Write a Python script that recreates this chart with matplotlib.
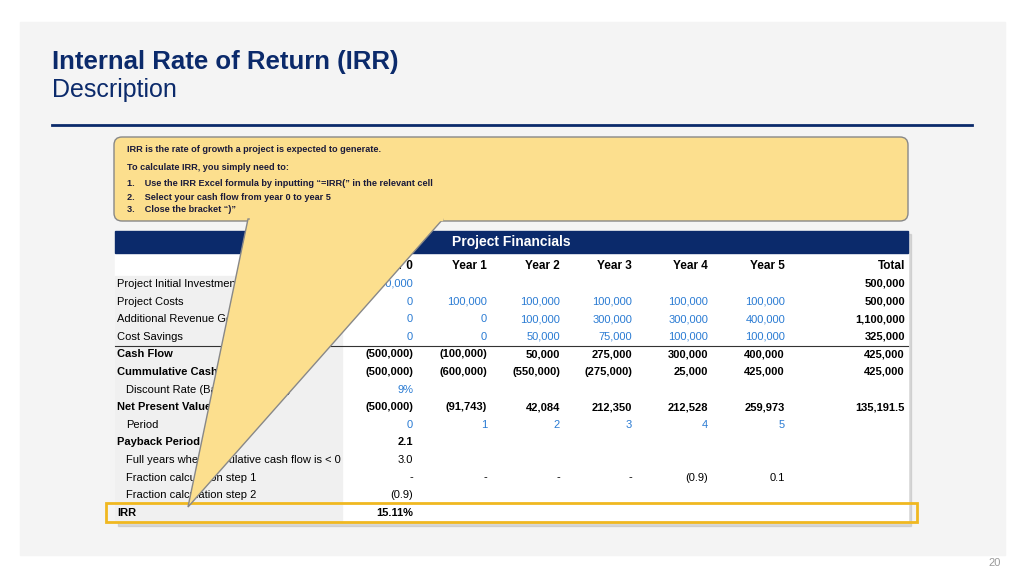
import matplotlib.pyplot as plt
from matplotlib.patches import Rectangle, FancyBboxPatch, Polygon

plt.rcParams['font.family'] = 'Liberation Sans'

NAVY = '#0b2a6b'
BLUE = '#2a7bd3'

# table data
columns = ["Year 0", "Year 1", "Year 2", "Year 3", "Year 4", "Year 5", "Total"]
row_labels = [
    "Project Initial Investment", "Project Costs", "Additional Revenue Generated", "Cost Savings",
    "Cash Flow", "Cummulative Cash Flow", "Discount Rate (Based on WACC)", "Net Present Value",
    "Period", "Payback Period", "Full years when cumulative cash flow is < 0",
    "Fraction calculation step 1", "Fraction calculation step 2", "IRR",
]
row_bold = [0, 0, 0, 0, 1, 1, 0, 1, 0, 1, 0, 0, 0, 1]
row_indent = [0, 0, 0, 0, 0, 0, 1, 0, 1, 0, 1, 1, 1, 0]
row_blue = [1, 1, 1, 1, 0, 0, 1, 0, 1, 0, 0, 0, 0, 0]
values = [
    ["500,000", "", "", "", "", "", "500,000"],
    ["0", "100,000", "100,000", "100,000", "100,000", "100,000", "500,000"],
    ["0", "0", "100,000", "300,000", "300,000", "400,000", "1,100,000"],
    ["0", "0", "50,000", "75,000", "100,000", "100,000", "325,000"],
    ["(500,000)", "(100,000)", "50,000", "275,000", "300,000", "400,000", "425,000"],
    ["(500,000)", "(600,000)", "(550,000)", "(275,000)", "25,000", "425,000", "425,000"],
    ["9%", "", "", "", "", "", ""],
    ["(500,000)", "(91,743)", "42,084", "212,350", "212,528", "259,973", "135,191.5"],
    ["0", "1", "2", "3", "4", "5", ""],
    ["2.1", "", "", "", "", "", ""],
    ["3.0", "", "", "", "", "", ""],
    ["-", "-", "-", "-", "(0.9)", "0.1", ""],
    ["(0.9)", "", "", "", "", "", ""],
    ["15.11%", "", "", "", "", "", ""],
]
callout_lines = [
    "IRR is the rate of growth a project is expected to generate.",
    "To calculate IRR, you simply need to:",
    "1.    Use the IRR Excel formula by inputting \u201c=IRR(\u201d in the relevant cell",
    "2.    Select your cash flow from year 0 to year 5",
    "3.    Close the bracket \u201c)\u201d",
]

fig = plt.figure(figsize=(10.24, 5.76), dpi=100)
ax = fig.add_axes([0, 0, 1, 1])
ax.set_xlim(0, 1024)
ax.set_ylim(576, 0)
ax.axis('off')
fig.patch.set_facecolor('white')

# slide panel
ax.add_patch(Rectangle((20, 22), 985, 533, color='#f4f4f4', zorder=0))
ax.text(52, 62, "Internal Rate of Return (IRR)", fontsize=18.5, fontweight='bold', color=NAVY, va='center')
ax.text(52, 90, "Description", fontsize=18, color=NAVY, va='center')
ax.plot([52, 972], [125, 125], color=NAVY, lw=2)
ax.text(1001, 563, "20", fontsize=8, color='#999999', ha='right', va='center')

# table
ax.add_patch(Rectangle((118, 234), 793, 292, color='#bbbbbb', alpha=0.5, zorder=1))
ax.add_patch(Rectangle((115, 231), 793, 291, color='white', zorder=2))
ax.add_patch(Rectangle((115, 231), 793, 22, color=NAVY, zorder=3))
ax.text(511, 242, "Project Financials", fontsize=10, fontweight='bold', color='white',
        ha='center', va='center', zorder=4)
ax.add_patch(Rectangle((115, 276), 227, 246, color='#f0f0f0', zorder=2))
col_x = [413, 487, 560, 632, 708, 785, 905]
row_y0, row_dy = 284, 17.6
for cx, c in zip(col_x, columns):
    ax.text(cx, 266, c, fontsize=8.5, fontweight='bold', ha='right', va='center', zorder=4)
for i, lab in enumerate(row_labels):
    y = row_y0 + i * row_dy
    w = 'bold' if row_bold[i] else 'normal'
    ax.text(117 + 9 * row_indent[i], y, lab, fontsize=8, fontweight=w, va='center', zorder=4)
    for j, v in enumerate(values[i]):
        if not v:
            continue
        if j == 6:
            ax.text(col_x[j], y, v, fontsize=8, fontweight='bold', ha='right', va='center', zorder=4)
        else:
            col = BLUE if row_blue[i] else 'black'
            ax.text(col_x[j], y, v, fontsize=8, fontweight=w, color=col, ha='right', va='center', zorder=4)
ax.plot([115, 908], [345.5, 345.5], color='#333333', lw=0.8, zorder=4)
ax.add_patch(Rectangle((106, 503), 811, 19, fill=False, edgecolor='#f0b820', lw=2, zorder=5))

# callout
ax.add_patch(FancyBboxPatch((118, 141), 786, 76, boxstyle='round,pad=4,rounding_size=8',
                            facecolor='#fcdf8e', edgecolor='#888888', lw=1, zorder=6))
ax.add_patch(Polygon([(248, 219), (443, 219), (188, 507)], closed=True,
                     facecolor='#fcdf8e', edgecolor='#888888', lw=1, zorder=6))
ax.add_patch(Rectangle((250, 214), 192, 6, color='#fcdf8e', zorder=7))
for k, (line, y) in enumerate(zip(callout_lines, [149, 167, 183, 197, 210])):
    ax.text(127, y, line, fontsize=6.6, fontweight='bold', color='#1a1a3a', va='center', zorder=8)

fig.savefig('out.png', dpi=100)
